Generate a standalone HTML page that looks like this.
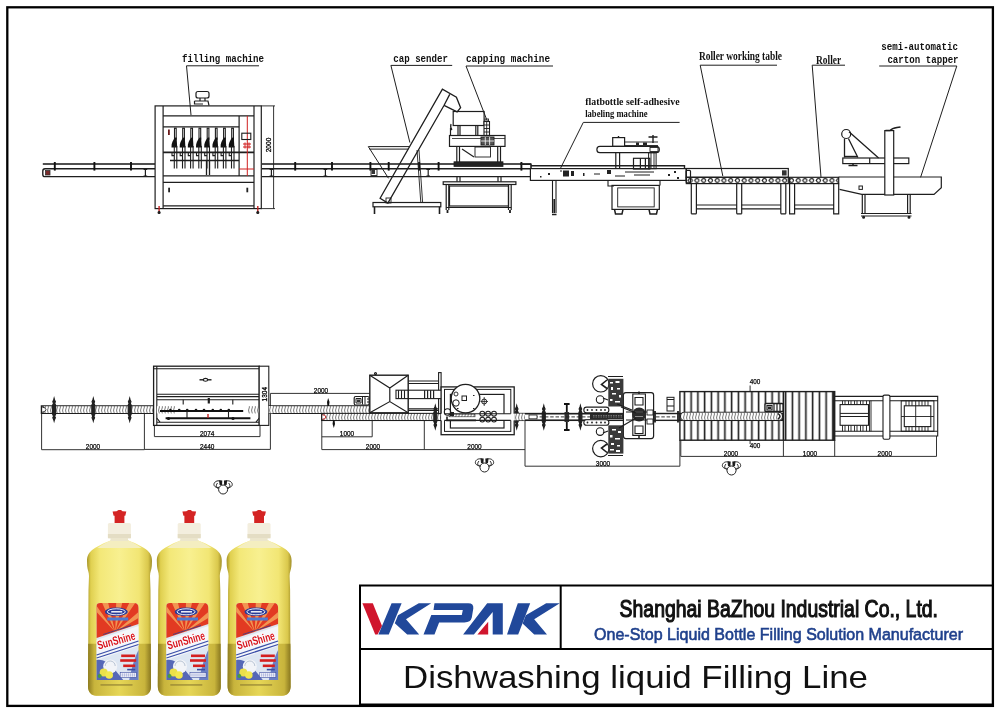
<!DOCTYPE html>
<html><head><meta charset="utf-8">
<style>
html,body{margin:0;padding:0;background:#fff;width:1000px;height:715px;overflow:hidden}
svg{position:absolute;left:0;top:0;display:block;will-change:transform}
.m{font-family:"Liberation Mono",monospace;font-size:11px;fill:#111}
.d{font-family:"Liberation Sans",sans-serif;font-size:8px;fill:#222}
</style></head><body>
<svg width="1000" height="715" viewBox="0 0 1000 715">
<!-- outer frame -->
<rect x="7.3" y="7.3" width="985.6" height="698.6" fill="none" stroke="#000" stroke-width="2.3"/>


<!-- ============ TOP ELEVATION ============ -->
<g fill="none" stroke="#1e1e1e" stroke-width="1.2">
 <!-- labels -->
 <g stroke="none" fill="#111" font-family="Liberation Mono" font-weight="bold" font-size="10.6">
  <text x="182" y="61.6" textLength="82" lengthAdjust="spacingAndGlyphs">filling machine</text>
  <text x="393.3" y="62.4" textLength="54.6" lengthAdjust="spacingAndGlyphs">cap sender</text>
  <text x="466" y="62.4" textLength="84" lengthAdjust="spacingAndGlyphs">capping machine</text>
  <text x="585.2" y="104.8" textLength="94.4" lengthAdjust="spacingAndGlyphs" font-family="Liberation Serif" font-size="10.8">flatbottle self-adhesive</text>
  <text x="585.2" y="117.1" textLength="62.3" lengthAdjust="spacingAndGlyphs" font-family="Liberation Serif" font-size="10.8">labeling machine</text>
  <text x="698.9" y="59.6" textLength="83.1" lengthAdjust="spacingAndGlyphs" font-family="Liberation Serif" font-size="11.6">Roller working table</text>
  <text x="816" y="64.4" textLength="25.2" lengthAdjust="spacingAndGlyphs" font-family="Liberation Serif" font-size="11.6">Roller</text>
  <text x="881.2" y="50" textLength="76.8" lengthAdjust="spacingAndGlyphs">semi-automatic</text>
  <text x="887.4" y="63" textLength="71.2" lengthAdjust="spacingAndGlyphs">carton tapper</text>
 </g>
 <!-- underlines and leaders -->
 <g stroke-width="1">
  <polyline points="259,65.8 186.5,65.8 191,115"/>
  <polyline points="452.2,65.4 390.9,65.4 409.9,142.6"/>
  <polyline points="553,66 466,66 488,123"/>
  <polyline points="679.6,122.4 583.3,122.4 560.6,168.1"/>
  <polyline points="777,65.2 700.2,65.2 722.8,176"/>
  <polyline points="845,65.2 812.2,65.2 821,177.3"/>
  <polyline points="879.2,66 956.8,66 920.6,177.3"/>
 </g>

 <!-- main conveyor rails -->
 <g stroke-width="1.5" stroke="#151515">
  <line x1="42.8" y1="164" x2="155" y2="164"/>
  <line x1="262" y1="164" x2="454" y2="164"/>
  <line x1="503" y1="164" x2="531" y2="164"/>
 </g>
 <g stroke-width="1.4">
  <path d="M45,168.8 L155,168.8 M45,176.6 L155,176.6 M45,168.8 Q42.8,168.8 42.8,171 L42.8,174.4 Q42.8,176.6 45,176.6"/>
  <path d="M262,168.8 L531,168.8 M262,176.6 L531,176.6"/>
 </g>
 <!-- posts -->
 <g stroke-width="1.9" stroke="#111">
  <line x1="54.8" y1="162" x2="54.8" y2="170.6"/>
  <line x1="94.4" y1="162" x2="94.4" y2="170.6"/>
  <line x1="131" y1="162" x2="131" y2="170.6"/>
  <line x1="295.2" y1="162" x2="295.2" y2="170.6"/>
  <line x1="332" y1="162" x2="332" y2="170.6"/>
  <line x1="370.4" y1="162" x2="370.4" y2="170.6"/>
  <line x1="438.6" y1="162" x2="438.6" y2="170.6"/>
  <line x1="388.7" y1="162" x2="388.7" y2="170.6"/>
  <line x1="419.1" y1="162" x2="419.1" y2="170.6"/>
  <line x1="521.4" y1="162" x2="521.4" y2="170.6"/>
 </g>
 <!-- I supports -->
 <g stroke-width="1.2">
  <path d="M145.4,169 L145.4,176.5 M143.6,169.5 L147.2,169.5 M143.6,176 L147.2,176"/>
  <path d="M271.4,169 L271.4,176.5 M269.6,169.5 L273.2,169.5 M269.6,176 L273.2,176"/>
  <path d="M325.4,169 L325.4,176.5 M323.6,169.5 L327.2,169.5 M323.6,176 L327.2,176"/>
  <path d="M428.2,169 L428.2,176.5 M426.4,169.5 L430,169.5 M426.4,176 L430,176"/>
 </g>
 <rect x="45.5" y="170.5" width="4.5" height="4.5" fill="#7a2a2a" stroke="#333" stroke-width="0.8"/>

 <!-- filling machine -->
 <rect x="155.1" y="105.9" width="106.2" height="102.7"/>
 <line x1="163.1" y1="105.9" x2="163.1" y2="208.6"/>
 <line x1="254" y1="105.9" x2="254" y2="208.6"/>
 <line x1="163.1" y1="115.9" x2="254" y2="115.9"/>
 <line x1="163.1" y1="126.8" x2="239.1" y2="126.8"/>
 <line x1="239.1" y1="115.9" x2="239.1" y2="175.9"/>
 <line x1="163.1" y1="175.9" x2="254" y2="175.9"/>
 <line x1="163.1" y1="182.3" x2="254" y2="182.3"/>
 <line x1="163.1" y1="205.9" x2="254" y2="205.9"/>
 <line x1="163.1" y1="152.3" x2="254" y2="152.3" stroke-width="1.8"/>
 <line x1="170" y1="160.5" x2="239" y2="160.5" stroke-width="1.5"/>
 <path d="M206.5,161 L206.5,175 M209.5,161 L209.5,175" stroke-width="1.3"/>
 <g stroke="#d02020" stroke-width="1">
  <line x1="247.3" y1="115.9" x2="247.3" y2="175.9"/>
  <line x1="239.1" y1="169" x2="254" y2="169"/>
  <path d="M243,144 L251,144 M243,147 L251,147 M245,142.5 L245,148.5 M249,142.5 L249,148.5"/>
 </g>
 <rect x="241.8" y="133.2" width="9" height="6.3" stroke-width="1.1"/>
 <g id="nz">
  <rect x="174.5" y="128.2" width="1.7" height="11" stroke-width="1.1"/>
  <path d="M176.6,137.5 L177.2,147.5 L171.5,147.5 C171.2,143.5 172.8,140 175.3,137.5 Z" fill="#111" stroke="none"/>
  <path d="M174.3,146 L174.3,168.5 M176.8,146 L176.8,168.5 M172,153 L172,155.6 L174.3,155.6" stroke-width="1.1"/>
 </g>
 <use href="#nz" x="8.2"/><use href="#nz" x="16.3"/><use href="#nz" x="24.5"/><use href="#nz" x="32.7"/><use href="#nz" x="40.9"/><use href="#nz" x="49.1"/><use href="#nz" x="57.2"/>
 <rect x="168" y="129.5" width="1.8" height="5.5" fill="#6a1a1a" stroke="none"/>
 <rect x="168.2" y="187.7" width="1.8" height="4.6" fill="#222" stroke="none"/>
 <rect x="246.4" y="187.7" width="1.8" height="4.6" fill="#222" stroke="none"/>
 <g stroke="#c02020" stroke-width="1.4">
  <line x1="159.1" y1="206" x2="159.1" y2="212"/>
  <line x1="257.8" y1="206" x2="257.8" y2="212"/>
 </g>
 <circle cx="159.1" cy="212.5" r="1" fill="#222"/>
 <circle cx="257.8" cy="212.5" r="1" fill="#222"/>
 <!-- top device -->
 <rect x="196" y="91.5" width="13" height="6.5" rx="2"/>
 <path d="M200,98 L200,101 M205,98 L205,101 M194.5,101 L208,101 L209,105.5 M194.5,101 L194.5,104 L203,104"/>
 <!-- dimension 2000 -->
 <g stroke-width="0.9">
  <line x1="273.6" y1="105.9" x2="273.6" y2="208.6"/>
  <line x1="261.3" y1="105.9" x2="275" y2="105.9"/>
  <line x1="261.3" y1="208.6" x2="275" y2="208.6"/>
 </g>
 <text x="0" y="0" transform="translate(271.3,152.3) rotate(-90)" font-family="Liberation Sans" font-size="7.8" fill="#000" stroke="#000" stroke-width="0.3" textLength="14.6" lengthAdjust="spacingAndGlyphs">2000</text>

 <!-- cap sender -->
 <path d="M368.3,146.6 L409.7,146.6 M369.5,149.1 L408.4,149.1 M368.3,146.6 L388.5,178.3" stroke-width="1"/>
 <path d="M380.1,198.3 L442.4,89.2 L456.4,97.2 L460.6,107.7 L457.1,111.9 L444.1,105.3 L387.9,203 Z M449.7,94.4 L444.1,105.3" stroke-width="1.3"/>
 <path d="M417,150 L420.8,202.5 M419,150 L422.6,202.5" stroke-width="0.9"/>
 <rect x="386" y="198" width="5" height="5" stroke-width="0.9"/>
 <rect x="373" y="202.5" width="67.8" height="4.3"/>
 <path d="M374.5,206.8 L374.5,213.9 M439.5,206.8 L439.5,213.9" stroke-width="1.6"/>
 <rect x="371" y="169.5" width="6" height="6" fill="#fff" stroke="#222" stroke-width="0.9"/>
 <rect x="371.5" y="170" width="3.5" height="4" fill="#333" stroke="none"/>

 <!-- capping machine -->
 <rect x="453.2" y="111.5" width="30.9" height="14"/>
 <path d="M450.5,128 L450.5,136 M452,130 Q450,128 451,124"/>
 <path d="M458,125.5 L458,135.5 M460,125.5 L460,135.5 M475.8,125.5 L475.8,135.5 M477.8,125.5 L477.8,135.5"/>
 <rect x="484" y="121.5" width="5.5" height="14" fill="#fff" stroke-width="1.1"/>
 <path d="M484,125 L489.5,125 M484,128.5 L489.5,128.5 M484,132 L489.5,132 M486.7,121.5 L486.7,135.5" stroke-width="0.9"/>
 <rect x="485" y="119" width="3.5" height="2.5" stroke-width="0.9"/>
 <rect x="449.5" y="135.5" width="55.5" height="10.9"/>
 <line x1="452" y1="138.5" x2="505" y2="138.5" stroke-width="0.8"/>
 <rect x="481" y="137" width="13" height="8" fill="#555" stroke-width="0.9"/>
 <path d="M485.3,137 L485.3,145 M489.6,137 L489.6,145 M481,141 L494,141" stroke="#fff" stroke-width="0.8"/>
 <path d="M456.8,146.4 L456.8,162.7 M459.5,146.4 L459.5,162.7 M497.7,146.4 L497.7,162.7 M500.5,146.4 L500.5,162.7"/>
 <rect x="475" y="147" width="15.5" height="10" stroke-width="0.9"/>
 <path d="M462,149 L474,157"/>
 <rect x="454" y="161.8" width="49" height="4.6" fill="#222" stroke-width="0.8"/>
 <path d="M457,176.6 L457,181.8 M460,176.6 L460,181.8 M498,176.6 L498,181.8 M501,176.6 L501,181.8"/>
 <rect x="443.2" y="181.8" width="72.7" height="2.7"/>
 <path d="M446.2,184.5 L446.2,210 M448.8,184.5 L448.8,210 M508.5,184.5 L508.5,210 M511.2,184.5 L511.2,210"/>
 <rect x="449.5" y="186" width="59" height="20"/>
 <line x1="446.2" y1="207.5" x2="511.2" y2="207.5"/>
 <path d="M447.5,210 L447.5,213 M510,210 L510,213" stroke-width="1.8"/>

 <!-- labeling machine -->
 <rect x="530.4" y="168.6" width="155.8" height="11.8"/>
 <path d="M531,165.8 L684.5,165.8 L684.5,168.6" stroke-width="1.4"/>
 <path d="M520,164.2 L531,164.2 L531,168.6" stroke-width="1.6"/>
 <path d="M552.5,180.4 L552.5,213 M556,180.4 L556,213" stroke-width="1.1"/>
 <path d="M554.2,199 L554.2,213 M552,214.5 L556.5,214.5" stroke-width="1.6"/>
 <rect x="596.9" y="146.4" width="62.4" height="6.3" rx="3"/>
 <rect x="612.7" y="137.6" width="11.9" height="8.8"/>
 <path d="M618.5,136 L618.5,137.6" stroke-width="1.4"/>
 <path d="M624.6,142 L658,142 M624.6,145.5 L658,145.5" stroke-width="0.9"/>
 <rect x="636" y="142.5" width="3" height="2.5" fill="#222" stroke="none"/>
 <rect x="643" y="142.5" width="4" height="2.5" fill="#222" stroke="none"/>
 <path d="M648.5,137 L657.5,137 M653,135 L653,143" stroke-width="1.4"/>
 <rect x="650" y="147.5" width="8" height="4" stroke-width="0.9"/>
 <path d="M615.8,152.7 L615.8,169 M619.6,152.7 L619.6,169"/>
 <rect x="648.6" y="152.7" width="7.5" height="16" stroke-width="1"/>
 <path d="M651,153 L651,168 M654,153 L654,168" stroke-width="0.9"/>
 <rect x="633.5" y="158.3" width="16.3" height="10.7"/>
 <path d="M640.4,158.3 L640.4,169 M645.4,158.3 L645.4,169"/>
 <path d="M625,172 L654,172 M634,175 L650,175 M560,171 L562,171 M594,174 L600,174 M615,176 L625,176" stroke-width="1"/>
 <g fill="#222" stroke="none">
  <rect x="563" y="170.5" width="6" height="6"/>
  <rect x="571" y="171" width="3" height="5"/>
  <rect x="607" y="170" width="4" height="4"/>
  <rect x="668" y="174" width="2" height="2"/>
  <rect x="674" y="171" width="2" height="2"/>
  <rect x="677" y="177" width="2" height="2"/>
  <rect x="548" y="173" width="2" height="2"/>
  <rect x="540" y="176" width="1.5" height="1.5"/>
  <rect x="583" y="173" width="1.5" height="3"/>
 </g>
 <path d="M608,180.4 L608,186 L614,186 M660,180.4 L660,185.4" stroke-width="1.1"/>
 <rect x="612" y="185.4" width="47.3" height="24"/>
 <rect x="617.7" y="187.9" width="36.5" height="19" stroke-width="0.9"/>
 <path d="M614.5,209.4 L615.5,214 L622,214 L623,209.4 M649,209.4 L650,214 L656.5,214 L657.5,209.4" stroke-width="1.5"/>
 <rect x="686.2" y="170.3" width="4.3" height="12.6" rx="1"/>
 <!-- roller tables -->
 <rect x="686.3" y="168.5" width="102" height="8.8"/>
 <rect x="782" y="170.3" width="4.6" height="5.2" fill="#333" stroke="none"/>
 <rect x="686.3" y="177.3" width="102" height="6.3"/>
 <rect x="789.6" y="177.3" width="49.1" height="6.3"/>
 <rect x="686.3" y="177.3" width="152.4" height="6.3" fill="url(#rollp)" stroke="none"/>
 <path d="M691.3,183.6 L691.3,213.8 M696.4,183.6 L696.4,213.8 M736.7,183.6 L736.7,213.8 M741.7,183.6 L741.7,213.8 M780.8,183.6 L780.8,213.8 M785.8,183.6 L785.8,213.8 M691.3,213.8 L696.4,213.8 M736.7,213.8 L741.7,213.8 M780.8,213.8 L785.8,213.8"/>
 <path d="M696.4,205 L736.7,205 M696.4,208.8 L736.7,208.8 M741.7,205 L780.8,205 M741.7,208.8 L780.8,208.8"/>
 <path d="M789.6,183.6 L789.6,213.8 L794.6,213.8 L794.6,183.6 M833.7,183.6 L833.7,213.8 L838.7,213.8 L838.7,183.6 M794.6,205 L833.7,205 M794.6,208.8 L833.7,208.8"/>

 <!-- carton tapper -->
 <path d="M838.7,177 L941.3,177 L941.3,187.7 L934,194.4 L861.8,194.4 L839.5,189.4"/>
 <rect x="842.8" y="158" width="66" height="5.6"/>
 <line x1="869.7" y1="158" x2="869.7" y2="163.6"/>
 <circle cx="846.2" cy="134" r="4.5"/>
 <path d="M849,131.7 L878.6,158 M844.5,138.5 L844.5,157.5 M848.4,138.5 L857.9,157.5" stroke-width="1.3"/>
 <path d="M845,156.5 L857,156.5" stroke-width="1.4"/>
 <path d="M848.5,165.5 L857.5,165.5 M853,163.6 L853,165.5" stroke-width="1.5"/>
 <rect x="884.8" y="130.6" width="8.9" height="64.4" fill="#fff"/>
 <path d="M885.5,130.6 L890,130.6 Q892,128.5 897,127.6 L900.5,127" stroke-width="1.5"/>
 <rect x="859" y="186" width="3.4" height="3.4" stroke-width="1"/>
 <path d="M862.3,194.4 L862.3,214 M865,194.4 L865,214 M907.6,194.4 L907.6,214 M910.2,194.4 L910.2,214 M861,213.5 L911.5,213.5 M861,216 L911.5,216"/>
 <circle cx="863.6" cy="217.2" r="0.9" fill="#222"/>
 <circle cx="909" cy="217.2" r="0.9" fill="#222"/>
</g>


<!-- ============ BOTTOM PLAN ============ -->
<g fill="none" stroke="#1e1e1e" stroke-width="1.1">
 <!-- dimension lines -->
 <g stroke="#333" stroke-width="1">
  <path d="M41.6,413.5 L41.6,449.7 L144.4,449.7 M144.4,413.5 L144.4,449.7"/>
  <path d="M154.4,425.4 L154.4,436.6 L260,436.6 L260,425.4"/>
  <path d="M144.4,449.4 L270.4,449.4 L270.4,393.4 L372.2,393.4 L372.2,436.8 L321.8,436.8"/>
  <path d="M321.8,420 L321.8,449.6 L525,449.6 M424.3,420 L424.3,449.6 M525,420 L525,466.2 L679.9,466.2 L679.9,440"/>
  <path d="M680.8,440.2 L680.8,456.4 L936.5,456.4 L936.5,436 M783.4,440.2 L783.4,456.4 M834.7,440.2 L834.7,456.4"/>
  <path d="M750.1,385.5 L750.1,391.6 M750.1,440.2 L750.1,444"/>
 </g>
 <g stroke="#000" stroke-width="0.25" fill="#000" font-family="Liberation Sans" font-size="7.6" text-anchor="middle">
  <text x="93" y="449" textLength="14.4" lengthAdjust="spacingAndGlyphs">2000</text>
  <text x="207.2" y="436.2" textLength="14.4" lengthAdjust="spacingAndGlyphs">2074</text>
  <text x="207.2" y="448.8" textLength="14.4" lengthAdjust="spacingAndGlyphs">2440</text>
  <text x="321" y="392.6" textLength="14.4" lengthAdjust="spacingAndGlyphs">2000</text>
  <text x="347" y="436.2" textLength="14.4" lengthAdjust="spacingAndGlyphs">1000</text>
  <text x="373" y="449" textLength="14.4" lengthAdjust="spacingAndGlyphs">2000</text>
  <text x="474.5" y="448.6" textLength="14.4" lengthAdjust="spacingAndGlyphs">2000</text>
  <text x="603" y="465.6" textLength="14.4" lengthAdjust="spacingAndGlyphs">3000</text>
  <text x="731" y="455.8" textLength="14.4" lengthAdjust="spacingAndGlyphs">2000</text>
  <text x="810" y="455.8" textLength="14.4" lengthAdjust="spacingAndGlyphs">1000</text>
  <text x="884.8" y="455.8" textLength="14.4" lengthAdjust="spacingAndGlyphs">2000</text>
  <text x="755" y="384.4" textLength="10.6" lengthAdjust="spacingAndGlyphs">400</text>
  <text x="755" y="448.3" textLength="10.6" lengthAdjust="spacingAndGlyphs">400</text>
 </g>

 <!-- conveyor bands -->
 <path d="M41.5,406 L368,406 Q371.5,406 371.5,409.65 Q371.5,413.3 368,413.3 L41.5,413.3 Z" fill="#fff" stroke-width="1.5"/>
 <rect x="44" y="406.3" width="327" height="6.7" fill="url(#chev)" stroke="none"/>
 <path d="M42.5,407.5 L44.5,407.5 Q47.5,409.6 44.5,411.8 L42.5,411.8" fill="#fff" stroke-width="0.9"/>
 <rect x="321.8" y="413.6" width="460.7" height="6.7" fill="#fff" stroke-width="1.5"/>
 <rect x="324" y="413.9" width="200" height="6.1" fill="url(#chev)" stroke="none"/>
 <path d="M322.5,415 L324.5,415 Q327.5,417 324.5,419 L322.5,419" fill="#fff" stroke="#c02020" stroke-width="1"/>

 <!-- spindles -->
 <use href="#spin" x="54.1" y="409.7"/>
 <use href="#spin" x="93.3" y="409.7"/>
 <use href="#spin" x="129.7" y="409.7"/>
 <path d="M328.2,398 L329.5,402 L329,406 L327.4,406 L327,402 Z" fill="#111" stroke="none"/>
 <path d="M333.8,428 L335,424 L334.6,420.3 L333,420.3 L332.6,424 Z" fill="#111" stroke="none"/>
 <use href="#spin" x="435.3" y="417"/>
 <use href="#spin" x="516.7" y="417"/>
 <use href="#spin" x="543.8" y="417"/>
 <use href="#spin" x="580.4" y="417"/>
 <path d="M566.8,403 L566.8,431 M564,404 L569.6,404 M564,430 L569.6,430" stroke="#111" stroke-width="1.8"/>
 <rect x="564.5" y="412" width="4.6" height="10" fill="#333" stroke="none"/>

 <!-- filling machine plan -->
 <rect x="153.6" y="366.2" width="105.6" height="59.2" fill="#fff" stroke-width="1.3"/>
 <path d="M156.8,366.2 L156.8,425.4 M153.6,368.8 L259.2,368.8 M156.8,394.2 L259.2,394.2 M156.8,396.6 L259.2,396.6 M156.8,399.8 L259.2,399.8 M156.8,422.2 L259.2,422.2"/>
 <path d="M183.2,399.8 L183.2,404.5 M232.8,399.8 L232.8,404.5"/>
 <path d="M208.8,398 L208.8,403.5" stroke-width="2.2"/>
 <rect x="156.8" y="406.2" width="102.4" height="7.2" fill="url(#chev)" stroke="none"/>
 <rect x="175" y="406" width="72" height="8" fill="#fff" stroke="none"/>
 <path d="M160,411 L243.2,411" stroke-width="1.8" stroke="#111"/>
 <path d="M165.6,418.2 L250.4,418.2" stroke-width="2" stroke="#111"/>
 <g fill="#111" stroke="none">
  <circle cx="170.4" cy="410" r="1.3"/><circle cx="179.2" cy="410" r="1.3"/><circle cx="187.2" cy="410" r="1.3"/><circle cx="196" cy="410" r="1.3"/>
  <circle cx="204" cy="410" r="1.3"/><circle cx="212.8" cy="410" r="1.3"/><circle cx="220.8" cy="410" r="1.3"/><circle cx="228.8" cy="410" r="1.3"/>
  <circle cx="168.5" cy="418.5" r="1.6"/><circle cx="233" cy="418.5" r="1.6"/>
 </g>
 <path d="M187,411 L187,418 M228.5,411 L228.5,418"/>
 <path d="M208,414 L208,418" stroke="#c02020" stroke-width="1.4"/>
 <path d="M156.8,418 L160,422.2 M259.2,418 L256,422.2"/>
 <path d="M199.5,379.8 L211.5,379.8" stroke-width="1.4"/>
 <ellipse cx="205.5" cy="379.8" rx="2.2" ry="1.4" fill="#fff"/>
 <rect x="259.2" y="366.2" width="9.6" height="59.2" fill="#fff" stroke-width="1.1"/>
 <text x="0" y="0" transform="translate(267.4,401.4) rotate(-90)" font-family="Liberation Sans" font-size="7.6" fill="#000" stroke="#000" stroke-width="0.3" textLength="14.4" lengthAdjust="spacingAndGlyphs">1304</text>
 <rect x="268.8" y="406" width="4" height="7.3" fill="url(#chev)" stroke="none"/>

 <!-- capper plan -->
 <rect x="354.2" y="396.5" width="15" height="8.5" rx="1.5" fill="#fff" stroke-width="1.2"/>
 <path d="M356,398.5 L361,398.5 L361,403 L356,403 Z M362.5,397 L362.5,404.5 M365,397 L365,404.5 M367,399 L369.5,399 M367,402 L369.5,402" stroke-width="1"/>
 <rect x="357" y="399.5" width="3" height="2.5" fill="#333" stroke="none"/>
 <path d="M408.2,381 L438.6,381 M408.2,383.5 L438.6,383.5 M408.2,408.7 L438.6,408.7 M408.2,410.4 L438.6,410.4"/>
 <rect x="438.6" y="372.6" width="2.5" height="41" fill="#fff"/>
 <rect x="397" y="390.2" width="56.7" height="8.4" fill="#fff"/>
 <g fill="#222" stroke="none">
  <rect x="400" y="390.2" width="1.2" height="8.4"/><rect x="403" y="390.2" width="1.2" height="8.4"/><rect x="406" y="390.2" width="1.2" height="8.4"/>
  <rect x="424" y="390.2" width="1.2" height="8.4"/><rect x="427" y="390.2" width="1.2" height="8.4"/><rect x="430" y="390.2" width="1.2" height="8.4"/><rect x="433" y="390.2" width="1.2" height="8.4"/>
  <rect x="444" y="390.2" width="1.2" height="8.4"/><rect x="447" y="390.2" width="1.2" height="8.4"/><rect x="450" y="390.2" width="1.2" height="8.4"/>
 </g>
 <rect x="369.8" y="375.2" width="38.4" height="37.6" fill="#fff" stroke-width="1.4"/>
 <path d="M369.8,375.2 L389.8,388 L408.2,375.2 M389.8,388 L389.8,401.6 M369.8,412.8 L389.8,401.6 L408.2,412.8" stroke-width="1.2"/>
 <rect x="396" y="390.2" width="12" height="8.4" fill="#fff"/>
 <path d="M398.5,390.2 L398.5,398.6 M401.5,390.2 L401.5,398.6 M404.5,390.2 L404.5,398.6"/>
 <circle cx="375.5" cy="373.6" r="1" />

 <!-- labeler 1 plan -->
 <rect x="441.1" y="386.9" width="73.1" height="47.8" fill="#fff" stroke-width="1.3"/>
 <rect x="444.5" y="389.4" width="66.3" height="42" stroke-width="1"/>
 <rect x="450.4" y="394.4" width="53.6" height="33.6" stroke-width="1.2"/>
 <rect x="441.1" y="413.7" width="73.1" height="6.7" fill="#fff" stroke="none"/>
 <path d="M444.5,413.7 L510.8,413.7 M444.5,420.4 L510.8,420.4"/>
 <rect x="449" y="414.2" width="26" height="2.6" fill="url(#chev)" stroke="#222" stroke-width="0.6"/>
 <path d="M447,416.5 L447,420.4 L476,420.4" stroke-width="1.6"/>
 <circle cx="465.5" cy="398.6" r="14.3" fill="#fff" stroke-width="1.3"/>
 <rect x="462" y="396" width="4.5" height="4.5" stroke-width="1"/>
 <circle cx="456" cy="403" r="3.2" stroke-width="1"/>
 <circle cx="456" cy="394" r="2" stroke-width="0.9"/>
 <g fill="#222" stroke="none"><rect x="473" y="395" width="1.5" height="1"/><rect x="473" y="408" width="1.5" height="1"/><rect x="457" y="408" width="1.5" height="1"/><rect x="450" y="412" width="4" height="4"/></g>
 <circle cx="484.2" cy="401.5" r="2.5" stroke-width="1"/>
 <path d="M484.2,397 L484.2,406 M480.5,401.5 L488,401.5" stroke-width="0.8"/>
 <circle cx="447.5" cy="412" r="3.2" stroke-width="1.1"/>
 <g stroke-width="1.1">
  <circle cx="482.3" cy="413.7" r="2.4"/><circle cx="488.1" cy="413.7" r="2.4"/><circle cx="494" cy="413.7" r="2.4"/>
  <circle cx="482.3" cy="419.6" r="2.4"/><circle cx="488.1" cy="419.6" r="2.4"/><circle cx="494" cy="419.6" r="2.4"/>
 </g>
 <rect x="514.2" y="413.6" width="10.8" height="6.7" fill="url(#chev)" stroke="none"/>

 <!-- labeler 2 plan -->
 <path d="M525,413.6 L600,413.6 M525,420.3 L600,420.3" stroke-width="1.3"/>
 <path d="M529,416.9 L598,416.9" stroke-width="0.9" stroke-dasharray="3.5,1.8"/>
 <rect x="529" y="415" width="8" height="3.8" fill="#fff" stroke-width="0.8"/>
 <path d="M590,413.4 L640,413.4 L640,419 L590,419 Z" fill="#2a2a2a" stroke="none"/>
 <path d="M593,415.5 L625,415.5 M593,417 L625,417" stroke="#bbb" stroke-width="0.5" stroke-dasharray="1.5,1"/>
 <rect x="583.8" y="407.1" width="25.1" height="5.7" rx="2.8" fill="#fff" stroke-width="1.1"/>
 <rect x="583.8" y="419.7" width="25.1" height="5.6" rx="2.8" fill="#fff" stroke-width="1.1"/>
 <g fill="#222" stroke="none">
  <circle cx="587.5" cy="410" r="0.9"/><circle cx="592" cy="410" r="0.9"/><circle cx="596.5" cy="410" r="0.9"/><circle cx="601" cy="410" r="0.9"/><circle cx="605" cy="410" r="0.9"/>
  <circle cx="587.5" cy="422.5" r="0.9"/><circle cx="592" cy="422.5" r="0.9"/><circle cx="596.5" cy="422.5" r="0.9"/><circle cx="601" cy="422.5" r="0.9"/><circle cx="605" cy="422.5" r="0.9"/>
 </g>
 <rect x="623.4" y="392.6" width="30.2" height="46" rx="2.5" fill="#fff" stroke-width="1.2"/>
 <circle cx="600.8" cy="383.8" r="8.2" fill="#fff" stroke-width="1.2"/>
 <circle cx="600.1" cy="399.6" r="3.8" fill="#fff" stroke-width="1.1"/>
 <circle cx="600.8" cy="448.6" r="8.2" fill="#fff" stroke-width="1.2"/>
 <circle cx="600.1" cy="431.6" r="3.8" fill="#fff" stroke-width="1.1"/>
 <path d="M607,380 L601.5,384.5 L607,388.5 M607,452.5 L601.5,448 L607,444" stroke-width="1.6"/>
 <path d="M603,398 L608,400 M603,433 L608,431" stroke-width="1.3"/>
 <rect x="608.3" y="378.8" width="15.1" height="27.7" fill="#3a3a3a" stroke="none"/>
 <rect x="608.3" y="425.3" width="15.1" height="28.3" fill="#3a3a3a" stroke="none"/>
 <g fill="#fff" stroke="none">
  <rect x="610" y="382" width="3" height="1.5"/><rect x="615.5" y="381" width="4" height="2"/><rect x="611" y="387" width="2" height="3"/><rect x="617" y="388" width="3" height="1.5"/>
  <rect x="612" y="393" width="4" height="1.5"/><rect x="619" y="395" width="2" height="2.5"/><rect x="610" y="399" width="2.5" height="2"/><rect x="615" y="401" width="5" height="1.5"/>
  <rect x="612" y="429" width="4" height="1.5"/><rect x="618" y="431" width="3" height="2"/><rect x="610" y="435" width="2.5" height="2.5"/><rect x="615" y="438" width="5" height="1.5"/>
  <rect x="611" y="443" width="3" height="2"/><rect x="617" y="445" width="3" height="1.5"/><rect x="610" y="449" width="4" height="1.5"/><rect x="616" y="450" width="4" height="2"/>
 </g>
 <path d="M608,376.5 L623,376.5 M608,455.5 L623,455.5" stroke-width="1.2"/>
 <path d="M632.8,394 L645.4,394 L645.4,435.4 L632.8,435.4 Z" fill="#fff" stroke-width="1.1"/>
 <path d="M635,397.5 L643,397.5 L643,405 L635,405 Z M635,426 L643,426 L643,433.5 L635,433.5 Z" fill="#fff" stroke-width="1.1"/>
 <path d="M639,391.5 L639,394 M639,435.4 L639,438" stroke-width="1.5"/>
 <circle cx="639.1" cy="414.5" r="7" fill="#2a2a2a" stroke="none"/>
 <path d="M635,412 L643,412 M635,416.5 L643,416.5" stroke="#ccc" stroke-width="0.6"/>
 <path d="M626,412 L652,412 M626,420 L652,420" stroke-width="1"/>
 <rect x="647" y="410" width="6" height="5" fill="#fff" stroke-width="0.9"/>
 <rect x="647" y="419" width="6" height="5" fill="#fff" stroke-width="0.9"/>
 <path d="M621,407 L636,413 M619,428 L636,418 M617,404 L632,410" stroke-width="1.2"/>
 <rect x="667" y="397.3" width="7" height="13.7" fill="#fff" stroke-width="1"/>
 <path d="M667,399.5 L674,399.5 M667,406 L674,406"/>
 <rect x="653.6" y="413.6" width="26.3" height="6.7" fill="#fff" stroke-width="1.3"/>
 <path d="M656,416.9 L678,416.9" stroke-width="0.9" stroke-dasharray="3.5,1.8"/>
 <path d="M655,411 L655,422.5 M678,411 L678,422.5" stroke-width="1.8"/>
 <!-- roller table plan -->
 <rect x="679.9" y="391.6" width="154.8" height="48.6" fill="url(#stripes)" stroke-width="1.4"/>
 <line x1="783.4" y1="391.6" x2="783.4" y2="440.2" stroke-width="1.6"/>
 <rect x="680.5" y="412.3" width="102" height="8.1" rx="4" fill="#fff" stroke-width="1.1"/>
 <rect x="683" y="412.8" width="95" height="7.1" fill="url(#chev)" stroke="none"/>
 <path d="M778,413.5 Q782,416.3 778,419.2" stroke-width="1.5"/>
 <rect x="765" y="403.5" width="18" height="8" rx="1" fill="#fff" stroke-width="1.3"/>
 <path d="M767,405.5 L772,405.5 L772,410 L767,410 Z M774,404 L774,411 M777,404 L777,411 M780,404 L780,411" stroke-width="1.2"/>
 <rect x="768" y="406.5" width="3" height="2.5" fill="#222" stroke="none"/>
 <rect x="832.6" y="391.6" width="2.2" height="48.6" fill="#222" stroke="none"/>

 <!-- tapper plan -->
 <path d="M834.7,396.4 L937.7,396.4 L937.7,400.8 L834.7,400.8 M834.7,431.3 L937.7,431.3 L937.7,436 L834.7,436 M937.7,400.8 L937.7,431.3" stroke-width="1.1"/>
 <rect x="883" y="395.1" width="6.9" height="44.1" rx="1.5" fill="#fff" stroke-width="1.1"/>
 <rect x="840.1" y="404.6" width="28.4" height="20.7" stroke-width="1.1"/>
 <path d="M840.1,413.4 L868.5,413.4 M840.1,416.5 L868.5,416.5" stroke-width="1"/>
 <path d="M869.5,400.8 L869.5,431.3 M871,400.8 L871,431.3" stroke-width="0.9"/>
 <g stroke-width="0.9">
  <path d="M842.5,400.8 L842.5,404.6 M845,400.8 L845,404.6 M848.5,400.8 L848.5,404.6 M851,400.8 L851,404.6 M854.5,400.8 L854.5,404.6 M857,400.8 L857,404.6 M860.5,400.8 L860.5,404.6 M863,400.8 L863,404.6 M866.5,400.8 L866.5,404.6"/>
  <path d="M842.5,425.3 L842.5,431.3 M845,425.3 L845,431.3 M848.5,425.3 L848.5,431.3 M851,425.3 L851,431.3 M854.5,425.3 L854.5,431.3 M857,425.3 L857,431.3 M860.5,425.3 L860.5,431.3 M863,425.3 L863,431.3 M866.5,425.3 L866.5,431.3"/>
 </g>
 <rect x="901.2" y="400.8" width="32.7" height="30.5" stroke-width="1"/>
 <rect x="904.3" y="405.8" width="26.5" height="20.8" stroke-width="1.1"/>
 <path d="M915.7,400.8 L915.7,431.3 M901.2,416.5 L933.9,416.5" stroke-width="0.9"/>
 <g stroke-width="0.9">
  <path d="M906,400.8 L906,405.8 M909,400.8 L909,405.8 M912,400.8 L912,405.8 M919,400.8 L919,405.8 M922,400.8 L922,405.8 M925,400.8 L925,405.8 M928,400.8 L928,405.8"/>
  <path d="M906,426.6 L906,431.3 M909,426.6 L909,431.3 M912,426.6 L912,431.3 M919,426.6 L919,431.3 M922,426.6 L922,431.3 M925,426.6 L925,431.3 M928,426.6 L928,431.3"/>
 </g>

 <!-- operators -->
 <use href="#op" x="223.1" y="489.5"/>
 <use href="#op" x="484.5" y="467.5"/>
 <use href="#op" x="731.5" y="470.5"/>
</g>

<!-- ============ BOTTLES ============ -->
<defs>
 <pattern id="chev" x="0" y="0" width="3" height="7.2" patternUnits="userSpaceOnUse">
  <rect x="0" y="0" width="3" height="7.2" fill="#444"/>
  <path d="M0,0 L2.3,0 L3,3.6 L2.3,7.2 L0,7.2 L0.7,3.6 Z" fill="#fff"/>
 </pattern>
 <g id="spin">
  <path d="M0,-11.5 L0.4,-10 L1.3,-8 L0.6,-6.5 L1.5,-4.5 L1.5,4.5 L0.6,6.5 L1.3,8 L0.4,10 L0,11.5 L-0.4,10 L-1.3,8 L-0.6,6.5 L-1.5,4.5 L-1.5,-4.5 L-0.6,-6.5 L-1.3,-8 L-0.4,-10 Z" fill="#222"/>
 </g>
 <g id="op">
  <path d="M-3.8,-2.2 C-7.5,-1.5 -9.8,-3.5 -9,-6 C-8,-8.6 -4.5,-9.4 -2.2,-8 M3.8,-2.2 C7.5,-1.5 9.8,-3.5 9,-6 C8,-8.6 4.5,-9.4 2.2,-8 M-4.4,-0.5 C-6.8,-1.5 -7.8,-4 -5.5,-6.5 M4.4,-0.5 C6.8,-1.5 7.8,-4 5.5,-6.5" fill="none" stroke="#222" stroke-width="1"/>
  <path d="M-3.4,-8.6 L-1.4,-8.4 L-1.6,-4.8 L-3,-5 Z M3.4,-8.6 L1.4,-8.4 L1.6,-4.8 L3,-5 Z" fill="#111"/>
  <circle cx="0" cy="0" r="4.5" fill="#fff" stroke="#222" stroke-width="1"/>
 </g>
 <pattern id="stripes" x="680" y="0" width="6.75" height="10" patternUnits="userSpaceOnUse">
  <rect x="3.6" y="0" width="1.6" height="10" fill="#1a1a1a"/>
 </pattern>
 <pattern id="rollp" x="686.85" y="177.3" width="6.75" height="6.3" patternUnits="userSpaceOnUse">
  <circle cx="3.37" cy="3.15" r="1.9" fill="none" stroke="#1a1a1a" stroke-width="1.05"/>
  <circle cx="0" cy="3.15" r="0.55" fill="#333"/>
 </pattern>
 <linearGradient id="bg" x1="0" x2="1" y1="0" y2="0">
  <stop offset="0" stop-color="#a89628"/>
  <stop offset="0.06" stop-color="#e0d050"/>
  <stop offset="0.2" stop-color="#f3e878"/>
  <stop offset="0.5" stop-color="#f8f090"/>
  <stop offset="0.8" stop-color="#f2e674"/>
  <stop offset="0.94" stop-color="#dac84c"/>
  <stop offset="1" stop-color="#a08e28"/>
 </linearGradient>
 <linearGradient id="bg2" x1="0" x2="1" y1="0" y2="0">
  <stop offset="0" stop-color="#8e7c20"/>
  <stop offset="0.1" stop-color="#c8b43c"/>
  <stop offset="0.5" stop-color="#e6d656"/>
  <stop offset="0.9" stop-color="#c8b43c"/>
  <stop offset="1" stop-color="#8a7820"/>
 </linearGradient>
 <linearGradient id="lbt" x1="0" x2="0" y1="0" y2="1">
  <stop offset="0" stop-color="#e4442a"/>
  <stop offset="1" stop-color="#f28a50"/>
 </linearGradient>
 <linearGradient id="lbb" x1="0" x2="0" y1="0" y2="1">
  <stop offset="0" stop-color="#eef2f8"/>
  <stop offset="0.25" stop-color="#5a6cb8"/>
  <stop offset="1" stop-color="#2a3a98"/>
 </linearGradient>
 <g id="bottle">
  <path d="M-9,40.5 L9,40.5 C13,42 20,45 26,49 C31,52.5 32.5,56 32.5,61 L32.3,66 C32,70 30.5,72 30.5,76 L31,90 L31.5,186 C31.5,192 28.5,195.5 23,195.8 L-23,195.8 C-28.5,195.5 -31.5,192 -31.5,186 L-31,90 L-30.5,76 C-30.5,72 -32,70 -32.3,66 L-32.5,61 C-32.5,56 -31,52.5 -26,49 C-20,45 -13,42 -9,40.5 Z" fill="url(#bg)"/>
  <path d="M-31.3,143.8 L31.3,143.8 L31.5,186 C31.5,192 28.5,195.5 23,195.8 L-23,195.8 C-28.5,195.5 -31.5,192 -31.5,186 Z" fill="url(#bg2)"/>
  <path d="M-9,40.5 L9,40.5 C13,42 18,45 22,48 L-22,48 C-18,45 -13,42 -9,40.5 Z" fill="#f4eec0"/>
  <rect x="-9" y="37.5" width="17.5" height="3.5" fill="#ece6cc"/>
  <rect x="-11.6" y="23.1" width="23" height="15.2" rx="1.5" fill="#f3eede"/>
  <rect x="-11.6" y="34" width="23" height="4.3" fill="#e4ddc4"/>
  <path d="M-6.9,11.4 L-3,11.2 L-1,10 L1.5,10 L3,11.2 L6.8,11.4 L5.8,15.8 L4.9,15.8 L4.9,23.1 L-4.9,23.1 L-4.9,15.8 L-5.9,15.8 Z" fill="#d42424"/>
  <g transform="translate(-0.3,0)">
  <path d="M-22.6,106 Q-22.6,103 -19,103 L15,103 Q19.3,103 19.3,108 L19.3,180 L-22.6,180 Z" fill="#dde6f2"/>
  <path d="M-22.6,106 Q-22.6,103 -19,103 L15,103 Q19.3,103 19.3,108 L19.3,124 L-22.6,138 Z" fill="#e23a22"/>
  <path d="M-4,132 L-22.6,112 L-22.6,106 Z M-4,132 L-17,103 L-11,103 Z M-4,132 L-3,103 L3,103 Z M-4,132 L10,103 L16,103 Z M-4,132 L19.3,112 L19.3,118 Z" fill="#f5a45a" opacity="0.85"/>
  <ellipse cx="-2.9" cy="111.8" rx="11.5" ry="4.3" fill="#2a3c98"/>
  <ellipse cx="-2.9" cy="111.8" rx="9" ry="3" fill="none" stroke="#fff" stroke-width="0.9"/>
  <path d="M-8,111.8 L3,111.8" stroke="#fff" stroke-width="1.4"/>
  <rect x="-12" y="117.5" width="21" height="3" fill="#4f7ad0"/>
  <path d="M-22.6,140 L19.3,126 L19.3,146 L-22.6,160 Z" fill="#f4f6fa"/>
  <text x="0" y="0" transform="translate(-20.8,149.5) rotate(-15)" font-family="Liberation Sans" font-weight="bold" font-size="12" fill="#d8141c" stroke="#fff" stroke-width="1" paint-order="stroke" textLength="39" lengthAdjust="spacingAndGlyphs">SunShine</text>
  <path d="M-16,134.5 L12,125.5" stroke="#2a3a90" stroke-width="0.8"/>
  <path d="M-22.6,155 L19.3,141 M-22.6,158 L19.3,144.5" stroke="#3a4ea8" stroke-width="1.3"/>
  <path d="M-22.6,180 L-22.6,160 C-12,158 -4,170 4,180 Z" fill="#3548a8" opacity="0.8"/>
  <path d="M19.3,150 L19.3,180 L10,180 C12,170 15,158 19.3,150 Z" fill="#3a52b0" opacity="0.7"/>
  <circle cx="-9" cy="166.5" r="7" fill="#f2f4f8"/>
  <path d="M-14,166 A5,5 0 0 1 -4,166" fill="none" stroke="#b8c4d4" stroke-width="1"/>
  <circle cx="-15.5" cy="172.5" r="4" fill="#eae04a"/>
  <circle cx="-10" cy="175" r="3.8" fill="#f2e84e"/>
  <circle cx="-19.5" cy="176" r="2" fill="#4a9a40"/>
  <rect x="2" y="154.5" width="14" height="2.6" fill="#d42020"/>
  <rect x="1" y="159.2" width="16" height="2.6" fill="#d42020"/>
  <rect x="4" y="164.5" width="12" height="2.6" fill="#d42020"/>
  <rect x="8" y="168.8" width="8" height="1.6" fill="#3a4aa0"/>
  <rect x="1" y="172.5" width="16" height="4.8" fill="#fff" stroke="#3a4aa0" stroke-width="0.6"/>
  <path d="M3,173.3 L3,176.7 M5,173.3 L5,176.7 M7,173.3 L7,176.7 M9,173.3 L9,176.7 M11,173.3 L11,176.7 M13,173.3 L13,176.7 M15,173.3 L15,176.7" stroke="#6a7ac0" stroke-width="0.7"/>
  </g>
  <rect x="-19" y="184" width="32" height="1.8" fill="#8a7a30" opacity="0.6"/>
 </g>
</defs>
<use href="#bottle" x="119.5" y="500"/>
<use href="#bottle" x="189.3" y="500"/>
<use href="#bottle" x="259.1" y="500"/>

<!-- ============ TITLE BLOCK ============ -->
<g fill="none" stroke="#000" stroke-width="2">
 <rect x="360" y="585.5" width="633" height="119"/>
 <line x1="560.7" y1="585.5" x2="560.7" y2="649"/>
 <line x1="360" y1="649" x2="993" y2="649"/>
</g>
<!-- VKPAK logo -->
<polygon fill="#d0152d" points="362.4,603.2 372.8,603.2 382,626 377.6,634.4 375.2,634.4"/>
<g fill="#21489a">
 <polygon points="391.6,603.2 401.6,603.2 388.8,634.4 378.4,634.4"/>
 <polygon points="398,615.2 418.8,603.2 431.2,603.2 406,619.2 419.2,634.4 407.2,634.4 394.8,623.2"/>
 <path d="M434.5,603.2 L468.3,603.2 Q473.8,603.2 473.3,608.6 L471.8,617.5 Q470.8,622.4 464.4,622.4 L439.1,622.4 L434.5,634.4 L423.5,634.4 L431.3,614.9 L461.8,614.9 L462.8,610 L433.5,610 Z"/>
 <polygon points="487.2,603.2 502.8,603.2 502.8,634.4 492.7,634.4 492.7,612 473.9,634.4 463.1,634.4"/>
 <polygon points="517.8,603.2 530.2,603.2 518.2,634.4 507,634.4"/>
 <polygon points="525.8,615.2 546.2,603.2 559.8,603.2 534.2,619.2 547,634.4 534.2,634.4 522.6,623.6"/>
</g>
<polygon fill="#d0152d" points="488.2,621.7 488.2,634.4 477.4,634.4"/>

<text x="619.6" y="617" font-family="Liberation Sans" font-size="24" fill="#111" stroke="#111" stroke-width="1.15" textLength="318.4" lengthAdjust="spacingAndGlyphs">Shanghai BaZhou Industrial Co., Ltd.</text>
<text x="594" y="640.3" font-family="Liberation Sans" font-size="16.8" fill="#1f408c" stroke="#1f408c" stroke-width="0.6" textLength="369" lengthAdjust="spacingAndGlyphs">One-Stop Liquid Bottle Filling Solution Manufacturer</text>
<text x="403" y="687.6" font-family="Liberation Sans" font-size="31.5" fill="#111" textLength="465" lengthAdjust="spacingAndGlyphs">Dishwashing liquid Filling Line</text>

</svg>
</body></html>
